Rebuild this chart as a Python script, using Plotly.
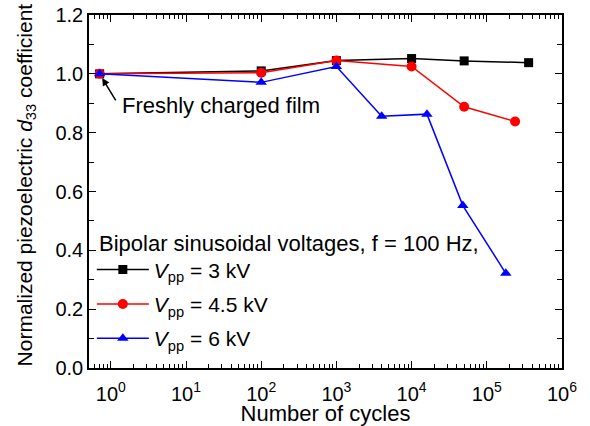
import math
import plotly.graph_objects as go

# Data (x = number of cycles; first point = freshly charged film)
x_3kv = [0.71, 100, 1000, 10000, 50000, 360000]
y_3kv = [1.0, 1.010, 1.045, 1.052, 1.044, 1.038]

x_45kv = [0.71, 100, 1000, 10000, 50000, 238000]
y_45kv = [1.0, 1.004, 1.045, 1.025, 0.888, 0.838]

x_6kv = [0.71, 100, 1000, 4000, 16000, 48000, 179000]
y_6kv = [1.0, 0.971, 1.025, 0.856, 0.863, 0.552, 0.322]

series_names = ["<i>V</i><sub>pp</sub> = 3 kV",
                "<i>V</i><sub>pp</sub> = 4.5 kV",
                "<i>V</i><sub>pp</sub> = 6 kV"]

x_tickvals = [1, 10, 100, 1000, 10000, 100000, 1000000]
x_ticktext = ["10<sup>0</sup>", "10<sup>1</sup>", "10<sup>2</sup>", "10<sup>3</sup>",
              "10<sup>4</sup>", "10<sup>5</sup>", "10<sup>6</sup>"]

FONT = "Liberation Sans, Arial, sans-serif"

fig = go.Figure()
fig.add_trace(go.Scatter(x=x_3kv, y=y_3kv, mode="lines+markers", name=series_names[0],
                         legendgroup="a",
                         line=dict(color="#000000", width=1.5),
                         marker=dict(symbol="square", size=9, color="#000000")))
fig.add_trace(go.Scatter(x=x_45kv, y=y_45kv, mode="lines+markers", name=series_names[1],
                         legendgroup="b",
                         line=dict(color="#FF0000", width=1.5),
                         marker=dict(symbol="circle", size=10, color="#FF0000")))
fig.add_trace(go.Scatter(x=x_6kv, y=y_6kv, mode="lines+markers", name=series_names[2],
                         legendgroup="c",
                         line=dict(color="#0000FF", width=1.5),
                         marker=dict(symbol="triangle-up", size=10, color="#0000FF")))

axis_common = dict(showline=True, linecolor="black", linewidth=1.5, mirror="ticks",
                   ticks="inside", ticklen=7, tickwidth=1.2, tickcolor="black",
                   showgrid=False, zeroline=False, automargin=False,
                   tickfont=dict(family=FONT, size=20, color="black"))

fig.update_xaxes(type="log", range=[-0.29, 6], tickmode="array",
                 tickvals=x_tickvals, ticktext=x_ticktext,
                 ticklabelstandoff=7,
                 minor=dict(ticks="inside", ticklen=4, tickwidth=1, tickcolor="black",
                            dtick="D1", showgrid=False),
                 title=dict(text="Number of cycles", font=dict(family=FONT, size=22, color="black"),
                            standoff=6),
                 **axis_common)
fig.update_yaxes(range=[0, 1.2], dtick=0.2, tickformat=".1f",
                 minor=dict(ticks="inside", ticklen=5, tickwidth=1, tickcolor="black",
                            dtick=0.1, showgrid=False),
                 **axis_common)

# Y-axis title (placed as rotated text so it can sit slightly above centre, as in the original)
fig.add_annotation(x=-0.1332, y=0.52, xref="paper", yref="paper",
                   text="Normalized piezoelectric <i>d</i><sub>33</sub> coefficient",
                   textangle=-90, showarrow=False, xanchor="center", yanchor="middle",
                   font=dict(family=FONT, size=21, color="black"))

# Arrow pointing to the first data point
fig.add_annotation(x=math.log10(x_3kv[0]), y=y_3kv[0], xref="x", yref="y", text="", showarrow=True,
                   ax=17, ay=28, axref="pixel", ayref="pixel",
                   arrowhead=2, arrowsize=1, arrowwidth=1.5, arrowcolor="black", standoff=5)
fig.add_annotation(x=0.066, y=0.743, xref="paper", yref="paper",
                   text="Freshly charged film", showarrow=False,
                   xanchor="left", yanchor="middle",
                   font=dict(family=FONT, size=22, color="black"))
# Legend heading
fig.add_annotation(x=0.016, y=0.354, xref="paper", yref="paper",
                   text="Bipolar sinusoidal voltages, f = 100 Hz,", showarrow=False,
                   xanchor="left", yanchor="middle",
                   font=dict(family=FONT, size=22, color="black"))

fig.update_layout(
    width=590, height=426,
    margin=dict(l=89, r=28, t=15, b=58),
    paper_bgcolor="white", plot_bgcolor="white",
    font=dict(family=FONT, size=21, color="black"),
    legend=dict(x=0.006, y=0.027, xanchor="left", yanchor="bottom",
                bgcolor="rgba(0,0,0,0)", itemwidth=52, tracegroupgap=4,
                font=dict(family=FONT, size=21, color="black")),
    showlegend=True,
)

fig.write_html("out.html")
